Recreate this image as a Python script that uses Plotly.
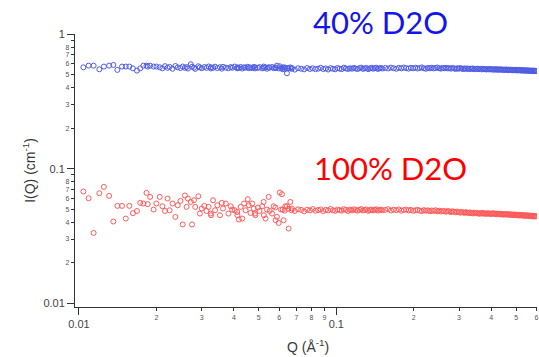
import plotly.graph_objects as go

# ---------------- data ----------------
# low-Q configuration (shared Q grid for both samples)
q_low = [0.0104, 0.0109, 0.0114, 0.0120, 0.0125, 0.0131, 0.0136, 0.0141, 0.0147, 0.0152,
         0.0157, 0.0162, 0.0168, 0.0173, 0.0178, 0.0183, 0.0185, 0.0189, 0.0195, 0.0200,
         0.0206, 0.0211, 0.0216, 0.0221, 0.0225, 0.0231, 0.0237, 0.0242, 0.0248, 0.0253,
         0.0258, 0.0262, 0.0265, 0.0272, 0.0275, 0.0280, 0.0283, 0.0291, 0.0295, 0.0300,
         0.0307, 0.0313, 0.0319, 0.0325, 0.0326, 0.0332, 0.0338, 0.0345, 0.0353, 0.0359,
         0.0363, 0.0372, 0.0381, 0.0389, 0.0394, 0.0403, 0.0412, 0.0413, 0.0418, 0.0425,
         0.0431, 0.0438, 0.0444, 0.0453, 0.0457, 0.0464, 0.0471, 0.0478, 0.0483, 0.0485,
         0.0496, 0.0503, 0.0515, 0.0522, 0.0523, 0.0531, 0.0538, 0.0546, 0.0551, 0.0563,
         0.0571, 0.0580, 0.0581, 0.0588, 0.0597, 0.0603, 0.0615, 0.0619, 0.0624, 0.0634,
         0.0643, 0.0653, 0.0663, 0.0672]

i100_low = [0.0677, 0.0603, 0.0333, 0.0657, 0.0732, 0.0628, 0.0405, 0.0529, 0.0529, 0.0426,
            0.0529, 0.0467, 0.0485, 0.0557, 0.0551, 0.0661, 0.0545, 0.0617, 0.0497, 0.0551,
            0.0617, 0.0526, 0.0485, 0.0600, 0.0491, 0.0551, 0.0438, 0.0535, 0.0576, 0.0385,
            0.0632, 0.0520, 0.0600, 0.0566, 0.0385, 0.0583, 0.0520, 0.0624, 0.0464, 0.0506,
            0.0529, 0.0485, 0.0520, 0.0464, 0.0451, 0.0583, 0.0491, 0.0535, 0.0451, 0.0557,
            0.0506, 0.0551, 0.0464, 0.0526, 0.0497, 0.0491, 0.0477, 0.0451, 0.0419, 0.0520,
            0.0426, 0.0551, 0.0491, 0.0593, 0.0535, 0.0469, 0.0551, 0.0506, 0.0464, 0.0451,
            0.0514, 0.0485, 0.0526, 0.0566, 0.0451, 0.0426, 0.0497, 0.0617, 0.0485, 0.0464,
            0.0526, 0.0514, 0.0414, 0.0438, 0.0395, 0.0665, 0.0646, 0.0497, 0.0414, 0.0526,
            0.0526, 0.0359, 0.0566, 0.0506]

i40_low = [0.567, 0.583, 0.583, 0.548, 0.574, 0.583, 0.590, 0.542, 0.574, 0.574,
           0.574, 0.557, 0.536, 0.557, 0.583, 0.583, 0.574, 0.583, 0.574, 0.574,
           0.567, 0.557, 0.578, 0.562, 0.571, 0.553, 0.580, 0.566, 0.559, 0.574,
           0.562, 0.569, 0.555, 0.597, 0.572, 0.563, 0.552, 0.577, 0.566, 0.558,
           0.570, 0.561, 0.575, 0.556, 0.567, 0.562, 0.573, 0.559, 0.568, 0.554,
           0.571, 0.564, 0.558, 0.569, 0.562, 0.574, 0.557, 0.566, 0.561, 0.570,
           0.555, 0.567, 0.563, 0.572, 0.558, 0.565, 0.560, 0.571, 0.556, 0.566,
           0.562, 0.569, 0.557, 0.574, 0.561, 0.566, 0.553, 0.568, 0.563, 0.570,
           0.558, 0.565, 0.560, 0.583, 0.556, 0.577, 0.562, 0.549, 0.568, 0.563,
           0.512, 0.557, 0.566, 0.560]

# high-Q configuration (shared Q grid)
q_high = [0.061, 0.063, 0.065, 0.067, 0.069, 0.071, 0.073, 0.075, 0.077, 0.079,
          0.081, 0.083, 0.085, 0.087, 0.089, 0.091, 0.093, 0.095, 0.097, 0.099,
          0.101, 0.103, 0.105, 0.107, 0.109, 0.111, 0.113, 0.115, 0.117, 0.119,
          0.121, 0.123, 0.125, 0.127, 0.129, 0.131, 0.133, 0.135, 0.137, 0.139,
          0.141, 0.143, 0.145, 0.147, 0.149, 0.151,
          0.155, 0.159, 0.163, 0.167, 0.171, 0.175, 0.179, 0.183, 0.187, 0.191,
          0.195, 0.199, 0.203, 0.207, 0.211, 0.215, 0.219, 0.223, 0.227, 0.231,
          0.235, 0.239, 0.243, 0.247, 0.251, 0.255, 0.259, 0.263, 0.267, 0.271,
          0.275, 0.279, 0.283, 0.287, 0.291, 0.295, 0.299, 0.303, 0.307, 0.311,
          0.315, 0.319, 0.323, 0.327, 0.331, 0.335, 0.339, 0.343, 0.347, 0.351,
          0.355, 0.359, 0.363, 0.367, 0.371, 0.375, 0.379, 0.383, 0.387, 0.391,
          0.395, 0.399, 0.403, 0.407, 0.411, 0.415, 0.419, 0.423, 0.427, 0.431,
          0.435, 0.439, 0.443, 0.447, 0.451, 0.455, 0.459, 0.463, 0.467, 0.471,
          0.475, 0.479, 0.483, 0.487, 0.491, 0.495, 0.499, 0.503, 0.507, 0.511,
          0.515, 0.519, 0.523, 0.527, 0.531, 0.535, 0.539, 0.543, 0.547, 0.551,
          0.555, 0.559, 0.563, 0.567, 0.571, 0.575, 0.579, 0.583, 0.587, 0.591,
          0.595, 0.599]

i100_high = [0.0497, 0.0488, 0.0503, 0.0491, 0.0485, 0.0499, 0.0494, 0.0482, 0.0496, 0.0490,
             0.0501, 0.0487, 0.0493, 0.0498, 0.0484, 0.0495, 0.0489, 0.0502, 0.0491, 0.0486,
             0.0497, 0.0492, 0.0488, 0.0500, 0.0494, 0.0485, 0.0496, 0.0490, 0.0499, 0.0493,
             0.0487, 0.0495, 0.0501, 0.0489, 0.0494, 0.0498, 0.0486, 0.0492, 0.0497, 0.0490,
             0.0495, 0.0499, 0.0488, 0.0493, 0.0496, 0.0491,
             0.0494, 0.0500, 0.0489, 0.0496, 0.0492, 0.0498, 0.0487, 0.0493, 0.0497, 0.0490,
             0.0494, 0.0486, 0.0491, 0.0495, 0.0488, 0.0484, 0.0492, 0.0487, 0.0490, 0.0483,
             0.0489, 0.0485, 0.0491, 0.0482, 0.0487, 0.0480, 0.0486, 0.0483, 0.0479, 0.0485,
             0.0481, 0.0476, 0.0483, 0.0478, 0.0474, 0.0480, 0.0476, 0.0471, 0.0477, 0.0473,
             0.0469, 0.0475, 0.0471, 0.0467, 0.0473, 0.0469, 0.0465, 0.0471, 0.0467, 0.0470,
             0.0466, 0.0462, 0.0468, 0.0464, 0.0469, 0.0463, 0.0466, 0.0461, 0.0467, 0.0463,
             0.0465, 0.0460, 0.0464, 0.0467, 0.0461, 0.0463, 0.0458, 0.0464, 0.0460, 0.0462,
             0.0457, 0.0461, 0.0459, 0.0455, 0.0460, 0.0457, 0.0461, 0.0455, 0.0458, 0.0454,
             0.0458, 0.0455, 0.0452, 0.0457, 0.0453, 0.0456, 0.0451, 0.0455, 0.0452, 0.0449,
             0.0454, 0.0450, 0.0453, 0.0448, 0.0452, 0.0449, 0.0446, 0.0451, 0.0447, 0.0450,
             0.0446, 0.0449, 0.0444, 0.0448, 0.0445, 0.0442, 0.0447, 0.0443, 0.0446, 0.0441,
             0.0445, 0.0443]

i40_high = [0.556, 0.548, 0.561, 0.552, 0.545, 0.558, 0.553, 0.547, 0.560, 0.551,
            0.557, 0.549, 0.554, 0.562, 0.550, 0.556, 0.546, 0.559, 0.553, 0.548,
            0.560, 0.554, 0.549, 0.563, 0.556, 0.551, 0.558, 0.553, 0.561, 0.555,
            0.550, 0.559, 0.564, 0.552, 0.557, 0.561, 0.549, 0.556, 0.562, 0.554,
            0.558, 0.563, 0.551, 0.557, 0.560, 0.555,
            0.561, 0.556, 0.564, 0.558, 0.553, 0.562, 0.557, 0.565, 0.559, 0.554,
            0.562, 0.557, 0.563, 0.555, 0.560, 0.566, 0.558, 0.553, 0.561, 0.557,
            0.563, 0.556, 0.560, 0.565, 0.558, 0.554, 0.561, 0.557, 0.562, 0.556,
            0.559, 0.554, 0.561, 0.556, 0.551, 0.558, 0.553, 0.560, 0.555, 0.550,
            0.557, 0.552, 0.556, 0.549, 0.554, 0.551, 0.556, 0.548, 0.553, 0.550,
            0.554, 0.549, 0.552, 0.547, 0.553, 0.548, 0.551, 0.546, 0.550, 0.547,
            0.551, 0.546, 0.549, 0.544, 0.548, 0.545, 0.550, 0.543, 0.547, 0.544,
            0.548, 0.543, 0.546, 0.541, 0.545, 0.542, 0.547, 0.540, 0.544, 0.541,
            0.545, 0.540, 0.543, 0.538, 0.542, 0.539, 0.544, 0.537, 0.541, 0.538,
            0.542, 0.537, 0.540, 0.535, 0.539, 0.536, 0.540, 0.534, 0.538, 0.535,
            0.538, 0.534, 0.537, 0.532, 0.536, 0.533, 0.537, 0.531, 0.535, 0.532,
            0.534, 0.531]

# tick labels
x_major_vals = [0.01, 0.1]
x_major_text = ["0.01", "0.1"]
x_minor_vals = [0.02, 0.03, 0.04, 0.05, 0.06, 0.07, 0.08, 0.09, 0.2, 0.3, 0.4, 0.5, 0.6]
x_minor_text = ["2", "3", "4", "5", "6", "7", "8", "9", "2", "3", "4", "5", "6"]
y_major_vals = [0.01, 0.1, 1]
y_major_text = ["0.01", "0.1", "1"]
y_minor_vals = [0.02, 0.03, 0.04, 0.05, 0.06, 0.07, 0.08, 0.09,
                0.2, 0.3, 0.4, 0.5, 0.6, 0.7, 0.8, 0.9]
y_minor_text = ["2", "3", "4", "5", "6", "7", "8", " ",
                "2", "3", "4", "5", "6", "7", "8", " "]

label_40 = "40% D2O"
label_100 = "100% D2O"

# ---------------- figure ----------------
def pair(a, b):
    n = min(len(a), len(b))
    return a[:n], b[:n]

BLUE = "rgb(80,92,225)"
RED = "rgb(255,90,90)"
AX = "#333333"
FONT = "Liberation Sans"

fig = go.Figure()
for qs, vs, xa, ya, col in [(q_low, i40_low, "x", "y", BLUE),
                            (q_high, i40_high, "x", "y", BLUE),
                            (q_low, i100_low, "x2", "y2", RED),
                            (q_high, i100_high, "x2", "y2", RED)]:
    xq, yv = pair(qs, vs)
    fig.add_trace(go.Scatter(x=xq, y=yv, mode="markers", xaxis=xa, yaxis=ya,
                             marker=dict(symbol="circle-open", size=5, color=col,
                                         line=dict(width=1, color=col)),
                             hoverinfo="skip"))

XR = [-2.0154, -0.2200]
YR = [-2.028, 0.001]

fig.update_layout(
    width=539, height=357,
    margin=dict(l=75, r=0, t=34, b=50),
    paper_bgcolor="white", plot_bgcolor="white",
    showlegend=False,
    font=dict(family=FONT, color=AX),
    xaxis=dict(type="log", range=XR, showgrid=False, zeroline=False,
               showline=True, linecolor=AX, linewidth=1.3,
               tickmode="array", tickvals=x_minor_vals, ticktext=x_minor_text,
               ticks="outside", ticklen=3, tickwidth=1, tickcolor=AX,
               ticklabeloverflow="allow",
               tickfont=dict(size=7, color="#555555", family=FONT), anchor="y"),
    yaxis=dict(type="log", range=YR, showgrid=False, zeroline=False,
               showline=True, linecolor=AX, linewidth=1.3,
               tickmode="array", tickvals=y_minor_vals, ticktext=y_minor_text,
               ticks="outside", ticklen=3, tickwidth=1, tickcolor=AX,
               tickfont=dict(size=7, color="#555555", family=FONT), anchor="x"),
    xaxis2=dict(type="log", range=XR, overlaying="x", side="bottom", anchor="y2",
                showgrid=False, zeroline=False, showline=False,
                tickmode="array", tickvals=x_major_vals, ticktext=x_major_text,
                ticks="outside", ticklen=7, tickwidth=1.2, tickcolor=AX,
                tickfont=dict(size=11, color="#444444", family=FONT)),
    yaxis2=dict(type="log", range=YR, overlaying="y", side="left", anchor="x2",
                showgrid=False, zeroline=False, showline=False,
                tickmode="array", tickvals=y_major_vals, ticktext=y_major_text,
                ticks="outside", ticklen=7, tickwidth=1.2, tickcolor=AX,
                tickfont=dict(size=11, color="#444444", family=FONT)),
    annotations=[
        dict(text="I(Q) (cm<sup>-1</sup>)", xref="paper", yref="paper",
             x=-0.101, y=0.50, textangle=-90, showarrow=False,
             xanchor="center", yanchor="middle",
             font=dict(size=14, color="#3a3a3a", family=FONT)),
        dict(text="Q (Å<sup>-1</sup>)", xref="paper", yref="paper",
             x=0.504, y=-0.143, showarrow=False,
             xanchor="center", yanchor="middle",
             font=dict(size=14, color="#3a3a3a", family=FONT)),
        dict(text=label_40, xref="paper", yref="paper",
             x=0.511, y=1.044, showarrow=False,
             xanchor="left", yanchor="middle",
             font=dict(size=31, color="rgb(20,20,235)", family="Lato")),
        dict(text=label_100, xref="paper", yref="paper",
             x=0.512, y=0.509, showarrow=False,
             xanchor="left", yanchor="middle",
             font=dict(size=31, color="rgb(255,0,0)", family="Lato")),
    ],
)

fig.write_html("out.html", config={"displayModeBar": False},
               post_script="document.body.style.margin='0';document.body.style.overflow='hidden';")
